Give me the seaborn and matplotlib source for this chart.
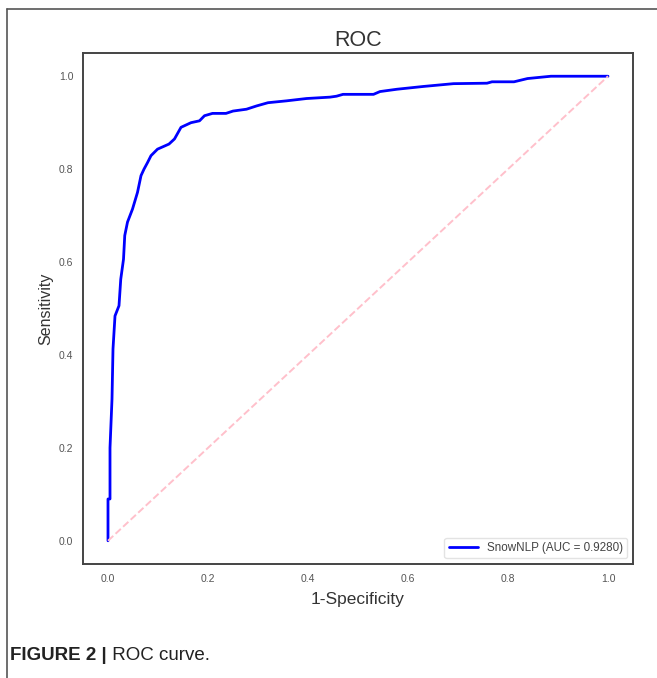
import matplotlib
matplotlib.use("Agg")
import matplotlib.pyplot as plt
from matplotlib.lines import Line2D
import seaborn as sns
import pandas as pd

fpr = [0.0, 0.0, 0.004, 0.004, 0.008, 0.010, 0.014, 0.022, 0.0255, 0.031,
       0.0335, 0.039, 0.049, 0.059, 0.066, 0.072, 0.079, 0.086, 0.099, 0.122,
       0.133, 0.146, 0.166, 0.183, 0.193, 0.209, 0.236, 0.250, 0.277, 0.297,
       0.320, 0.357, 0.397, 0.444, 0.457, 0.470, 0.531, 0.544, 0.578, 0.631,
       0.691, 0.758, 0.768, 0.812, 0.839, 0.886, 1.0]
tpr = [0.0, 0.09, 0.09, 0.20, 0.305, 0.413, 0.484, 0.506, 0.563, 0.606,
       0.657, 0.686, 0.714, 0.750, 0.786, 0.800, 0.814, 0.829, 0.843, 0.854,
       0.865, 0.890, 0.900, 0.904, 0.915, 0.920, 0.920, 0.925, 0.929, 0.936,
       0.943, 0.947, 0.952, 0.955, 0.957, 0.961, 0.961, 0.967, 0.972, 0.978,
       0.984, 0.985, 0.988, 0.988, 0.995, 1.0, 1.0]
diag_x = [0.0, 1.0]
diag_y = [0.0, 1.0]
series_label = "SnowNLP (AUC = 0.9280)"
ticks = [0.0, 0.2, 0.4, 0.6, 0.8, 1.0]

sns.set_theme(style="white")
plt.rcParams['font.family'] = ['Liberation Sans', 'DejaVu Sans']

fig = plt.figure(figsize=(6.57, 6.78), dpi=100)
ax = fig.add_axes([83/657, 1 - 564/678, (633-83)/657, (564-53)/678])

roc = pd.DataFrame({"fpr": fpr, "tpr": tpr})
diag = pd.DataFrame({"x": diag_x, "y": diag_y})

sns.lineplot(data=roc, x="fpr", y="tpr", sort=False, estimator=None,
             color="blue", lw=2.0, label=series_label, ax=ax)
sns.lineplot(data=diag, x="x", y="y", sort=False, estimator=None,
             color="pink", lw=1.4, linestyle="--", ax=ax, legend=False)

ax.set_xlim(-0.05, 1.05)
ax.set_ylim(-0.05, 1.05)
ax.set_xticks(ticks)
ax.set_yticks(ticks)
ax.set_xticklabels([f"{t:.1f}" for t in ticks])
ax.set_yticklabels([f"{t:.1f}" for t in ticks])
ax.tick_params(axis="both", labelsize=7.5, labelcolor="#555555", length=0, pad=7)
for s in ax.spines.values():
    s.set_color("#444444")
    s.set_linewidth(1.4)

ax.set_title("ROC", fontsize=15.5, color="#333333", pad=5)
ax.set_xlabel("1-Specificity", fontsize=12.5, color="#333333", labelpad=6)
ax.set_ylabel("Sensitivity", fontsize=11.5, color="#333333", labelpad=4)

leg = ax.legend(loc="lower right", fontsize=8.4, frameon=True, fancybox=True,
                edgecolor="#dddddd", handlelength=2.5, borderpad=0.35,
                borderaxespad=0.5)
for t in leg.get_texts():
    t.set_color("#444444")

# figure frame (left and top)
fig.add_artist(Line2D([7/657, 7/657], [0, 1 - 9/678], transform=fig.transFigure,
                      color="#555555", lw=1.2))
fig.add_artist(Line2D([7/657, 1], [1 - 9/678, 1 - 9/678], transform=fig.transFigure,
                      color="#555555", lw=1.2))

t1 = fig.text(10/657, 1 - 655/678, "FIGURE 2 |", fontsize=13.5, fontweight="bold",
              color="#222222", va="center", ha="left")
ax.annotate(" ROC curve.", xy=(1, 0), xycoords=t1, va="bottom", ha="left",
            fontsize=13.5, color="#222222", annotation_clip=False)

fig.savefig("out.png", dpi=100)
